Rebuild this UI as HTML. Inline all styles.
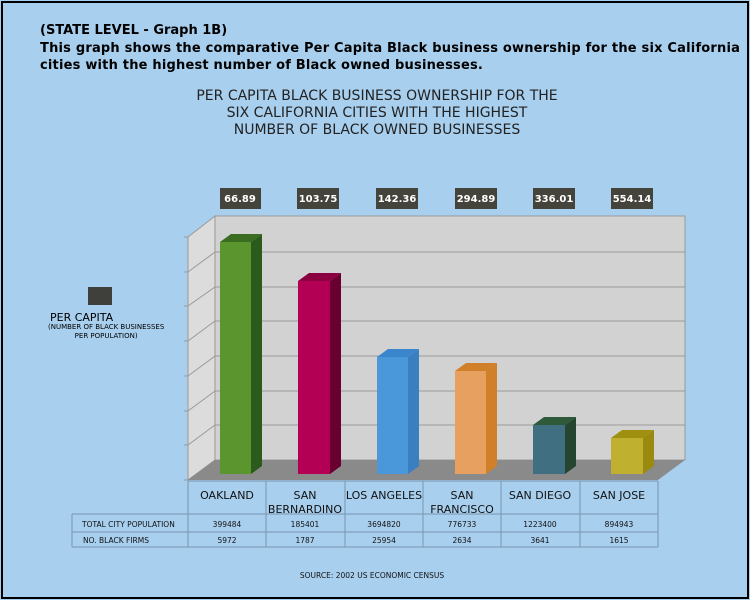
<!DOCTYPE html>
<html><head><style>
body{margin:0;width:750px;height:600px;background:#a8cfee;font-family:"DejaVu Sans","Liberation Sans",sans-serif;overflow:hidden;position:relative}
.frame{position:absolute;left:1px;top:1px;width:744px;height:594px;border:2px solid #000}
.t{position:absolute;white-space:nowrap}
</style></head><body>
<div class="frame"></div>
<div class="t" style="left:40px;top:23px;font-size:13px;font-weight:bold">(STATE LEVEL - Graph 1B)</div>
<div class="t" style="left:40px;top:40px;font-size:13px;font-weight:bold;line-height:17px;letter-spacing:0.2px">This graph shows the comparative Per Capita Black business ownership for the six California<br>cities with the highest number of Black owned businesses.</div>
<div class="t" style="left:0;width:754px;top:88px;text-align:center;font-size:14px;line-height:17px;color:#222">PER CAPITA BLACK BUSINESS OWNERSHIP FOR THE<br>SIX CALIFORNIA CITIES WITH THE HIGHEST<br>NUMBER OF BLACK OWNED BUSINESSES</div>
<div style="position:absolute;left:88px;top:287px;width:24px;height:18px;background:#3f3f3b"></div>
<div class="t" style="left:50px;top:311px;font-size:11px">PER CAPITA</div>
<div class="t" style="left:48px;top:323px;font-size:7px;line-height:9px;text-align:center">(NUMBER OF BLACK BUSINESSES<br>PER POPULATION)</div>
<svg width="750" height="600" style="position:absolute;left:0;top:0" font-family="DejaVu Sans, Liberation Sans, sans-serif">
<polygon points="215,216 685,216 685,460 215,460" fill="#d2d2d2" stroke="#999"/>
<polygon points="188,237 215,216 215,460 188,480" fill="#dcdcdc" stroke="#999"/>
<polygon points="188,480 215,460 685,460 658,480" fill="#8a8a8a"/>
<g stroke="#999" fill="none">
<path d="M215,252H685M215,287H685M215,321H685M215,356H685M215,391H685M215,425H685"/>
<path d="M188,272L215,252M188,306L215,287M188,341L215,321M188,376L215,356M188,411L215,391M188,445L215,425"/>
<path d="M184,237H188M184,272H188M184,306H188M184,341H188M184,376H188M184,411H188M184,445H188M184,480H188"/>
</g>
<g>
<polygon points="220,242 231,234 262,234 251,242" fill="#3a6d22"/><rect x="220" y="242" width="31" height="232" fill="#5b952d"/><polygon points="251,242 262,234 262,466 251,474" fill="#2b5a1c"/>
<polygon points="298,281 309,273 341,273 330,281" fill="#8a0040"/><rect x="298" y="281" width="32" height="193" fill="#b30055"/><polygon points="330,281 341,273 341,466 330,474" fill="#6a0030"/>
<polygon points="377,357 388,349 419,349 408,357" fill="#3a86cc"/><rect x="377" y="357" width="31" height="117" fill="#4a98da"/><polygon points="408,357 419,349 419,466 408,474" fill="#3a7fc0"/>
<polygon points="455,371 466,363 497,363 486,371" fill="#d08028"/><rect x="455" y="371" width="31" height="103" fill="#e8a060"/><polygon points="486,371 497,363 497,466 486,474" fill="#d08028"/>
<polygon points="533,425 544,417 576,417 565,425" fill="#2e5a3a"/><rect x="533" y="425" width="32" height="49" fill="#3f6f80"/><polygon points="565,425 576,417 576,466 565,474" fill="#254530"/>
<polygon points="611,438 622,430 654,430 643,438" fill="#a09010"/><rect x="611" y="438" width="32" height="36" fill="#c0b030"/><polygon points="643,438 654,430 654,466 643,474" fill="#9a8a10"/>
</g>
<g fill="#45443c"><rect x="220" y="188" width="41" height="21"/><rect x="297" y="188" width="42" height="21"/><rect x="376" y="188" width="42" height="21"/><rect x="455" y="188" width="42" height="21"/><rect x="533" y="188" width="42" height="21"/><rect x="611" y="188" width="42" height="21"/></g>
<g fill="#fff" font-size="10" font-weight="bold" text-anchor="middle"><text x="240" y="202">66.89</text><text x="318" y="202">103.75</text><text x="397" y="202">142.36</text><text x="476" y="202">294.89</text><text x="554" y="202">336.01</text><text x="632" y="202">554.14</text></g>
<g stroke="#7a96b0" fill="none">
<path d="M188,481V547M266,481V547M345,481V547M423,481V547M501,481V547M580,481V547M658,481V547"/>
<path d="M72,514H658M72,532H658M72,547H658M72,514V547M188,481H658"/>
</g>
<g font-size="11" text-anchor="middle" fill="#111">
<text x="227" y="499">OAKLAND</text>
<text x="305" y="499">SAN</text><text x="305" y="513">BERNARDINO</text>
<text x="384" y="499">LOS ANGELES</text>
<text x="462" y="499">SAN</text><text x="462" y="513">FRANCISCO</text>
<text x="540" y="499">SAN DIEGO</text>
<text x="619" y="499">SAN JOSE</text>
</g>
<g font-size="7.5" text-anchor="middle" fill="#111">
<text x="227" y="527">399484</text><text x="305" y="527">185401</text><text x="384" y="527">3694820</text><text x="462" y="527">776733</text><text x="540" y="527">1223400</text><text x="619" y="527">894943</text>
<text x="227" y="543">5972</text><text x="305" y="543">1787</text><text x="384" y="543">25954</text><text x="462" y="543">2634</text><text x="540" y="543">3641</text><text x="619" y="543">1615</text>
<text x="372" y="578">SOURCE: 2002 US ECONOMIC CENSUS</text>
</g>
<g font-size="7.5" fill="#111"><text x="82" y="527">TOTAL CITY POPULATION</text><text x="83" y="543">NO. BLACK FIRMS</text></g>
</svg>
</body></html>
